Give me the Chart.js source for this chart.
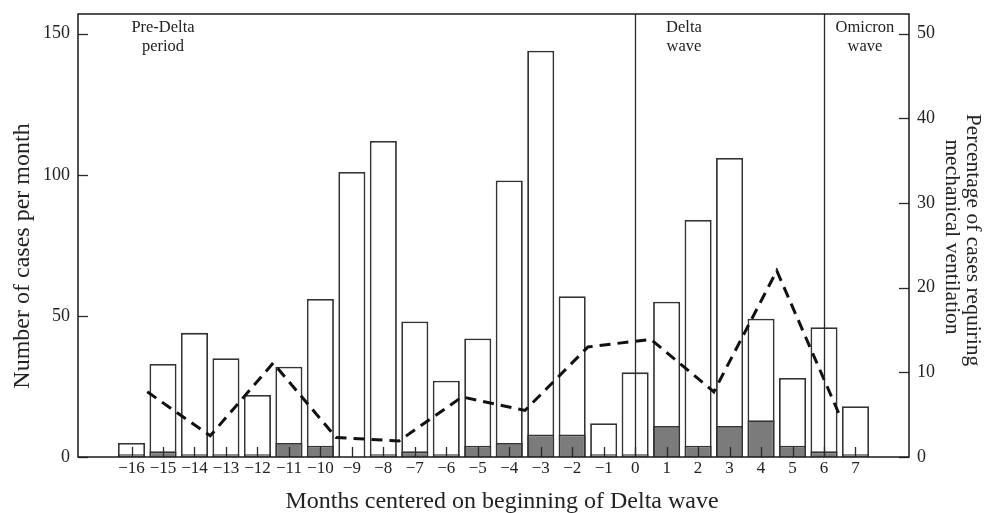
<!DOCTYPE html>
<html>
<head>
<meta charset="utf-8">
<title>Cases per month around the Delta wave</title>
<script src="https://cdn.jsdelivr.net/npm/chart.js@4.4.0/dist/chart.umd.min.js"></script>
<style>
html,body{margin:0;padding:0;background:#fff;}
</style>
</head>
<body>
<canvas id="chart" width="986" height="513"></canvas>
<script>
// months centered on beginning of Delta wave
var months = [-16,-15,-14,-13,-12,-11,-10,-9,-8,-7,-6,-5,-4,-3,-2,-1,0,1,2,3,4,5,6,7];
// total cases per month (white bars)
var totalCases = [5,33,44,35,22,32,56,101,112,48,27,42,98,144,57,12,30,55,84,106,49,28,46,18];
// cases needing mechanical ventilation (grey bars)
var ventCases = [1,2,1,1,1,5,4,0,1,2,1,4,5,8,8,1,1,11,4,11,13,4,2,1];
// percentage requiring ventilation, points sit between months
var pctX = [-15.5,-13.5,-11.5,-9.5,-7.5,-5.5,-3.5,-1.5,0.5,2.5,4.5,6.5];
var pctVent = [7.7,2.5,11.1,2.3,1.9,7.1,5.5,13.0,13.9,7.7,22.0,4.9];
var leftTicks = [0,50,100,150];
var rightTicks = [0,10,20,30,40,50];
var waveLines = [0,6];
var waveLabelX = [-15,1.55,7.3];
var waveLabelText = [['Pre-Delta','period'],['Delta','wave'],['Omicron','wave']];

var SERIF = '"Liberation Serif", "Times New Roman", serif';
var INK = '#222';

function fmtMonth(v){
  return v < 0 ? '\u2212' + Math.abs(v) : String(v);
}

var extras = {
  id:'extras',
  afterDatasetsDraw:function(chart){
    var ctx = chart.ctx, ca = chart.chartArea;
    var sx = chart.scales.x, sy = chart.scales.y, sy2 = chart.scales.y2;
    ctx.save();
    ctx.strokeStyle = '#2a2a2a';
    ctx.lineWidth = 1.3;
    // wave dividers
    waveLines.forEach(function(v){
      var px = Math.round(sx.getPixelForValue(v)) + 0.5;
      ctx.beginPath(); ctx.moveTo(px, ca.top); ctx.lineTo(px, ca.bottom); ctx.stroke();
    });
    // inward tick marks
    months.forEach(function(v){
      var px = Math.round(sx.getPixelForValue(v)) + 0.5;
      ctx.beginPath(); ctx.moveTo(px, ca.bottom); ctx.lineTo(px, ca.bottom - 10); ctx.stroke();
    });
    leftTicks.forEach(function(v){
      var py = Math.round(sy.getPixelForValue(v)) + 0.5;
      ctx.beginPath(); ctx.moveTo(ca.left, py); ctx.lineTo(ca.left + 10, py); ctx.stroke();
    });
    rightTicks.forEach(function(v){
      var py = Math.round(sy2.getPixelForValue(v)) + 0.5;
      ctx.beginPath(); ctx.moveTo(ca.right - 10, py); ctx.lineTo(ca.right, py); ctx.stroke();
    });
    // frame
    ctx.lineWidth = 1.5;
    ctx.strokeStyle = '#1a1a1a';
    ctx.strokeRect(ca.left, ca.top, ca.right - ca.left, ca.bottom - ca.top);

    // period labels
    ctx.fillStyle = INK;
    ctx.font = '16.5px ' + SERIF;
    ctx.textAlign = 'center';
    ctx.textBaseline = 'middle';
    waveLabelX.forEach(function(v, i){
      var px = sx.getPixelForValue(v);
      ctx.fillText(waveLabelText[i][0], px, ca.top + 14);
      ctx.fillText(waveLabelText[i][1], px, ca.top + 33);
    });

    // axis titles
    ctx.font = '24px ' + SERIF;
    ctx.fillText('Months centered on beginning of Delta wave', 502, 502);
    ctx.save();
    ctx.translate(23, 256);
    ctx.rotate(-Math.PI / 2);
    ctx.fillText('Number of cases per month', 0, 0);
    ctx.restore();
    ctx.font = '21.5px ' + SERIF;
    ctx.save();
    ctx.translate(973, 240);
    ctx.rotate(Math.PI / 2);
    ctx.fillText('Percentage of cases requiring', 0, 0);
    ctx.restore();
    ctx.save();
    ctx.translate(952, 237);
    ctx.rotate(Math.PI / 2);
    ctx.fillText('mechanical ventilation', 0, 0);
    ctx.restore();
    ctx.restore();
  }
};

function noPad(s){
  s.paddingTop = 0; s.paddingBottom = 0;
}

var ctx = document.getElementById('chart').getContext('2d');
var chart = new Chart(ctx, {
  type:'bar',
  data:{
    datasets:[
      {
        type:'line',
        label:'% requiring ventilation',
        data:pctX.map(function(x, i){ return {x:x, y:pctVent[i]}; }),
        yAxisID:'y2',
        borderColor:'#111',
        borderWidth:3,
        borderDash:[11,7],
        pointRadius:0,
        tension:0,
        fill:false,
        order:0
      },
      {
        label:'Ventilated',
        data:months.map(function(m, i){ return {x:m, y:ventCases[i]}; }),
        yAxisID:'y',
        backgroundColor:'#7b7b7b',
        borderColor:'#333',
        borderWidth:1.8,
        grouped:false,
        barPercentage:0.86,
        categoryPercentage:1,
        order:1
      },
      {
        label:'Cases',
        data:months.map(function(m, i){ return {x:m, y:totalCases[i]}; }),
        yAxisID:'y',
        backgroundColor:'#ffffff',
        borderColor:'#333',
        borderWidth:1.8,
        grouped:false,
        barPercentage:0.86,
        categoryPercentage:1,
        order:2
      }
    ]
  },
  options:{
    responsive:false,
    animation:false,
    layout:{padding:{top:14,left:0,right:0,bottom:0}},
    plugins:{legend:{display:false}, tooltip:{enabled:false}},
    scales:{
      x:{
        type:'linear',
        offset:false,
        min:-17.7,
        max:8.7,
        afterBuildTicks:function(s){ s.ticks = months.map(function(v){ return {value:v}; }); },
        afterFit:function(s){ s.height = 56; s.paddingLeft = 0; s.paddingRight = 0; },
        grid:{display:false, drawTicks:false},
        border:{display:false},
        ticks:{
          autoSkip:false, maxRotation:0, padding:1,
          color:INK, font:{family:SERIF, size:17},
          callback:function(v){ return fmtMonth(v); }
        }
      },
      y:{
        position:'left',
        min:0,
        max:157,
        afterBuildTicks:function(s){ s.ticks = leftTicks.map(function(v){ return {value:v}; }); },
        afterFit:function(s){ s.width = 78; noPad(s); },
        grid:{display:false, drawTicks:false},
        border:{display:false},
        ticks:{padding:8, color:INK, font:{family:SERIF, size:18}}
      },
      y2:{
        position:'right',
        min:0,
        max:157 / 3,
        afterBuildTicks:function(s){ s.ticks = rightTicks.map(function(v){ return {value:v}; }); },
        afterFit:function(s){ s.width = 77; noPad(s); },
        grid:{display:false, drawTicks:false},
        border:{display:false},
        ticks:{padding:8, color:INK, font:{family:SERIF, size:18}}
      }
    }
  },
  plugins:[extras]
});
</script>
</body>
</html>
